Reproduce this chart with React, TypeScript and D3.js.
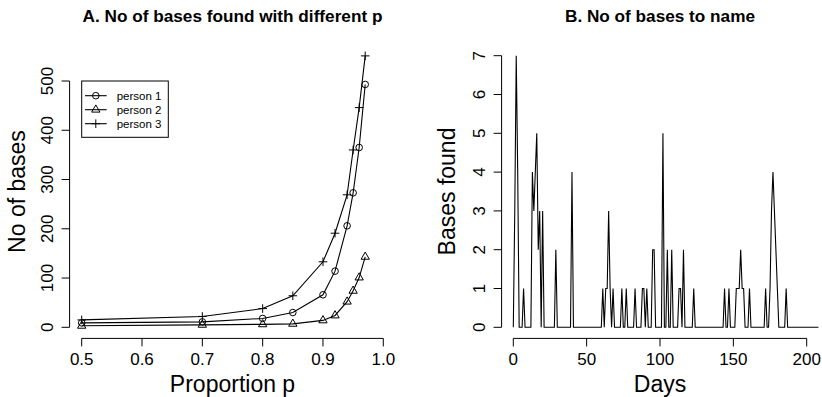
import React from 'react';
import * as d3 from 'd3';

// ---------- Panel A data ----------
const pValues = [0.5, 0.7, 0.8, 0.85, 0.9, 0.92, 0.94, 0.95, 0.96, 0.97];
const person1 = [9, 11, 18, 30, 66, 114, 206, 273, 365, 493];
const person2 = [3, 5, 6, 7, 14, 24, 52, 74, 101, 143];
const person3 = [15, 22, 38, 64, 133, 191, 269, 360, 446, 551];
const seriesNames = ['person 1', 'person 2', 'person 3'];
const pTicks = [0.5, 0.6, 0.7, 0.8, 0.9, 1.0];
const pTickLabels = ['0.5', '0.6', '0.7', '0.8', '0.9', '1.0'];
const baseTicks = [0, 100, 200, 300, 400, 500];

// ---------- Panel B data (bases found per day, day 0..210) ----------
const basesFound = [
  0, 3, 7, 4, 0, 0, 0, 1, 0, 0,
  0, 0, 0, 4, 3, 4, 5, 2, 3, 0,
  3, 0, 0, 0, 0, 0, 0, 0, 0, 2,
  0, 0, 0, 0, 0, 0, 0, 0, 0, 0,
  4, 0, 0, 0, 0, 0, 0, 0, 0, 0,
  0, 0, 0, 0, 0, 0, 0, 0, 0, 0,
  0, 1, 0, 1, 1, 3, 1, 0, 1, 0,
  0, 0, 0, 0, 1, 0, 0, 1, 0, 0,
  0, 0, 0, 1, 0, 0, 0, 0, 1, 1,
  0, 1, 0, 0, 0, 2, 2, 0, 0, 0,
  0, 0, 5, 0, 0, 2, 0, 0, 2, 0,
  0, 0, 0, 1, 1, 0, 2, 0, 0, 0,
  0, 0, 0, 1, 0, 0, 0, 0, 0, 0,
  0, 0, 0, 0, 0, 0, 0, 0, 0, 0,
  0, 0, 0, 0, 1, 0, 0, 1, 0, 0,
  0, 0, 1, 1, 1, 2, 1, 1, 0, 0,
  0, 1, 0, 0, 0, 0, 0, 0, 0, 0,
  0, 0, 1, 0, 0, 1, 3, 4, 3, 2,
  1, 0, 0, 0, 0, 0, 1, 0, 0, 0,
  0, 0, 0, 0, 0, 0, 0, 0, 0, 0,
  0, 0, 0, 0, 0, 0, 0, 0, 0, 0,
  0,
];
const dayTicks = [0, 50, 100, 150, 200];
const foundTicks = [0, 1, 2, 3, 4, 5, 6, 7];

const FONT = "'Liberation Sans', Arial, Helvetica, sans-serif";
const W = 822;
const H = 397;

function Marker({ kind, x, y }: { kind: number; x: number; y: number }) {
  if (kind === 0) {
    return <circle cx={x} cy={y} r={3.3} fill="none" stroke="#000" strokeWidth={1} />;
  }
  if (kind === 1) {
    const r = 4.8;
    const c = r * Math.cos(Math.PI / 6);
    const d = `M${x},${y - r}L${x + c},${y + r / 2}L${x - c},${y + r / 2}Z`;
    return <path d={d} fill="none" stroke="#000" strokeWidth={1} />;
  }
  const a = 4.3;
  return (
    <path d={`M${x - a},${y}H${x + a}M${x},${y - a}V${y + a}`} stroke="#000" strokeWidth={1} fill="none" />
  );
}

export default function App() {
  // Panel A scales
  const xA = d3.scaleLinear().domain([0.5, 1.0]).range([81.7, 383.3]);
  const yA = d3.scaleLinear().domain([0, 500]).range([327.3, 81]);
  // Panel B scales
  const xB = d3.scaleLinear().domain([0, 200]).range([513.3, 806.7]);
  const yB = d3.scaleLinear().domain([0, 7]).range([327.3, 55.7]);

  const plotTop = 44.9;
  const plotBottom = 338.4;
  const axisY = 338.4;
  const tickLen = 8;

  const lineA = d3
    .line<[number, number]>()
    .x((d) => xA(d[0]))
    .y((d) => yA(d[1]));
  const allSeries = [person1, person2, person3];

  const lineB = d3
    .line<number>()
    .x((_, i) => xB(i))
    .y((d) => yB(d));

  const axisXA = 69.6;
  const axisXB = 501.6;

  const tickFont = 17;
  const labFont = 23;

  return (
    <svg
      width={W}
      height={H}
      style={{ position: 'absolute', left: 0, top: 0, background: '#fff' }}
      fontFamily={FONT}
    >
      <rect x={0} y={0} width={W} height={H} fill="#fff" />
      <defs>
        <clipPath id="clipB">
          <rect x={axisXB} y={plotTop} width={818.4 - axisXB} height={plotBottom - plotTop} />
        </clipPath>
      </defs>

      {/* ---------- Panel A ---------- */}
      <text x={232.5} y={21.7} textAnchor="middle" fontWeight="bold" fontSize={17.2}>
        A. No of bases found with different p
      </text>
      {/* x axis */}
      <line x1={xA(0.5)} x2={xA(1.0)} y1={axisY} y2={axisY} stroke="#000" strokeWidth={1} />
      {pTicks.map((t, i) => (
        <g key={'pa' + i}>
          <line x1={xA(t)} x2={xA(t)} y1={axisY} y2={axisY + tickLen} stroke="#000" strokeWidth={1} />
          <text x={xA(t)} y={365} textAnchor="middle" fontSize={tickFont}>
            {pTickLabels[i]}
          </text>
        </g>
      ))}
      {/* y axis */}
      <line x1={axisXA} x2={axisXA} y1={yA(0)} y2={yA(500)} stroke="#000" strokeWidth={1} />
      {baseTicks.map((t, i) => (
        <g key={'ya' + i}>
          <line x1={axisXA - tickLen} x2={axisXA} y1={yA(t)} y2={yA(t)} stroke="#000" strokeWidth={1} />
          <text
            transform={`translate(${axisXA - 17},${yA(t)}) rotate(-90)`}
            textAnchor="middle"
            fontSize={tickFont}
          >
            {t}
          </text>
        </g>
      ))}
      <text x={232.5} y={391.5} textAnchor="middle" fontSize={labFont}>
        Proportion p
      </text>
      <text transform={`translate(25,191.5) rotate(-90)`} textAnchor="middle" fontSize={labFont}>
        No of bases
      </text>
      {allSeries.map((s, k) => (
        <g key={'s' + k}>
          <path
            d={lineA(pValues.map((p, i) => [p, s[i]] as [number, number])) || ''}
            fill="none"
            stroke="#000"
            strokeWidth={1.1}
          />
          {pValues.map((p, i) => (
            <Marker key={i} kind={k} x={xA(p)} y={yA(s[i])} />
          ))}
        </g>
      ))}
      {/* legend */}
      <rect x={81.7} y={81} width={86.6} height={56.3} fill="#fff" stroke="#000" strokeWidth={1} />
      {seriesNames.map((n, k) => {
        const ry = 95.7 + k * 14;
        return (
          <g key={'lg' + k}>
            <line x1={85} x2={106.7} y1={ry} y2={ry} stroke="#000" strokeWidth={1.1} />
            <Marker kind={k} x={95.8} y={ry} />
            <text x={116.7} y={ry + 4} fontSize={11.5}>
              {n}
            </text>
          </g>
        );
      })}

      {/* ---------- Panel B ---------- */}
      <text x={660} y={21.7} textAnchor="middle" fontWeight="bold" fontSize={17.2}>
        B. No of bases to name
      </text>
      <line x1={xB(0)} x2={xB(200)} y1={axisY} y2={axisY} stroke="#000" strokeWidth={1} />
      {dayTicks.map((t, i) => (
        <g key={'xb' + i}>
          <line x1={xB(t)} x2={xB(t)} y1={axisY} y2={axisY + tickLen} stroke="#000" strokeWidth={1} />
          <text x={xB(t)} y={365} textAnchor="middle" fontSize={tickFont}>
            {t}
          </text>
        </g>
      ))}
      <line x1={axisXB} x2={axisXB} y1={yB(0)} y2={yB(7)} stroke="#000" strokeWidth={1} />
      {foundTicks.map((t, i) => (
        <g key={'yb' + i}>
          <line x1={axisXB - tickLen} x2={axisXB} y1={yB(t)} y2={yB(t)} stroke="#000" strokeWidth={1} />
          <text
            transform={`translate(${axisXB - 17},${yB(t)}) rotate(-90)`}
            textAnchor="middle"
            fontSize={tickFont}
          >
            {t}
          </text>
        </g>
      ))}
      <text x={660} y={391.5} textAnchor="middle" fontSize={labFont}>
        Days
      </text>
      <text transform={`translate(455,191.5) rotate(-90)`} textAnchor="middle" fontSize={labFont}>
        Bases found
      </text>
      <path
        d={lineB(basesFound) || ''}
        fill="none"
        stroke="#000"
        strokeWidth={1.1}
        strokeLinejoin="miter"
        clipPath="url(#clipB)"
      />
    </svg>
  );
}
